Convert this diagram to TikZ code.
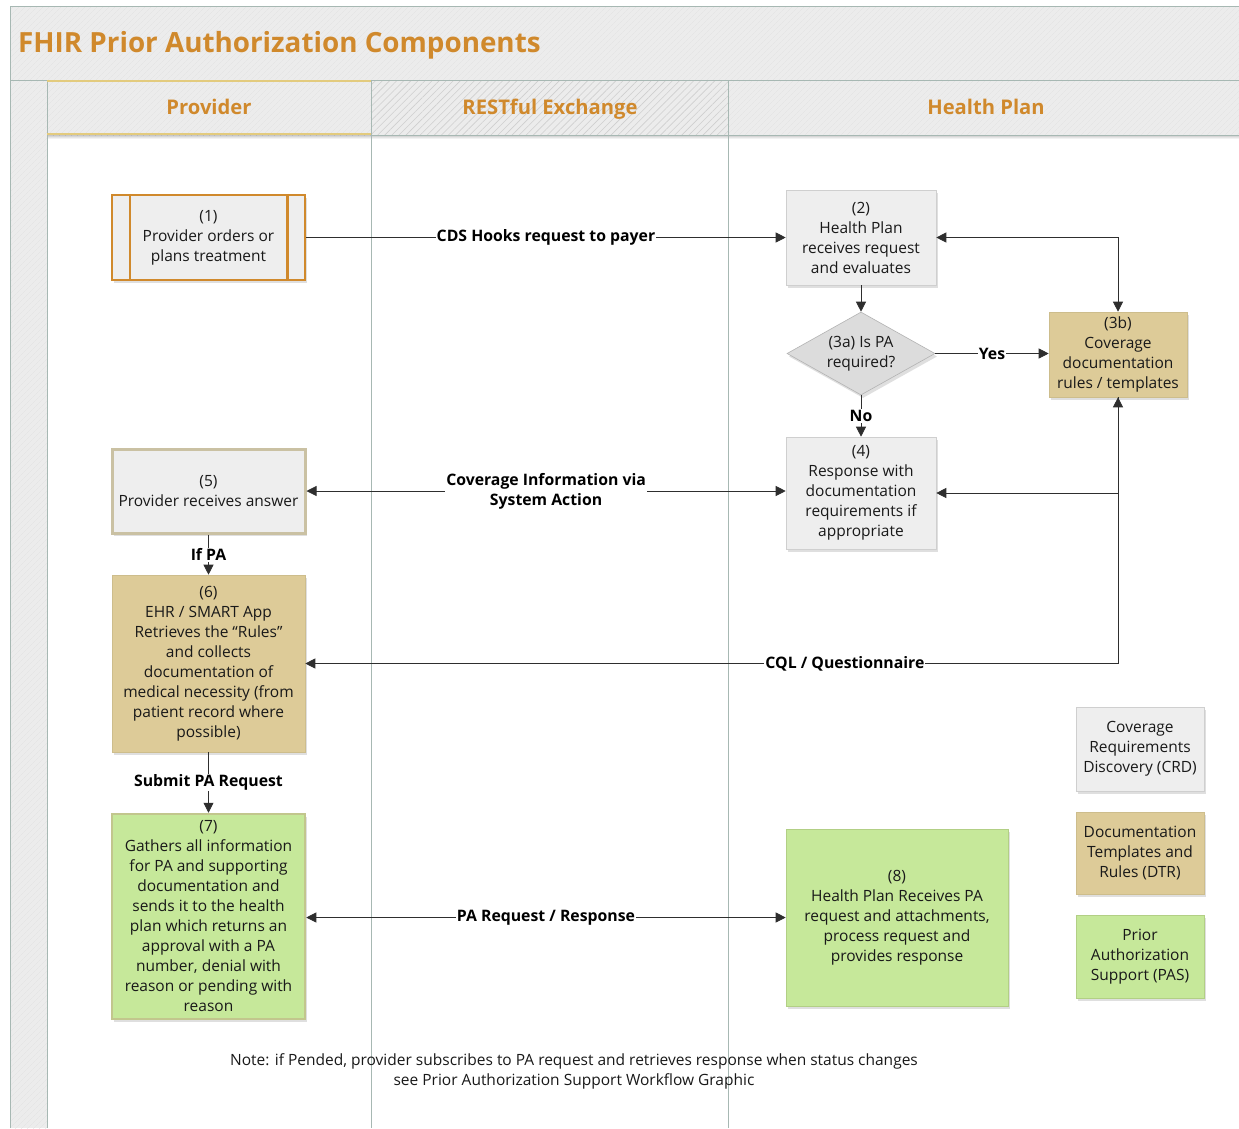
\documentclass[tikz,border=0pt]{standalone}
\usepackage{fontspec}
\setmainfont{Open Sans}
\usetikzlibrary{arrows.meta,shapes.geometric,shadows,patterns.meta,calc}

\definecolor{titleorange}{HTML}{D0892C}
\definecolor{frameline}{HTML}{A7B8B3}
\definecolor{bandgray}{HTML}{ECECEC}
\definecolor{hatchlight}{HTML}{E2E2E2}
\definecolor{hatchdark}{HTML}{CFCFCF}
\definecolor{goldline}{HTML}{E3CB7E}
\definecolor{boxgray}{HTML}{EEEEEE}
\definecolor{boxgrayline}{HTML}{CFCFCF}
\definecolor{tanfill}{HTML}{DDCB98}
\definecolor{tanline}{HTML}{CDBD8C}
\definecolor{greenfill}{HTML}{C6E89A}
\definecolor{greenline}{HTML}{B2CF85}
\definecolor{answerline}{HTML}{CAC1A3}
\definecolor{pasline}{HTML}{C2C68D}
\definecolor{diamondfill}{HTML}{DCDCDC}
\definecolor{diamondline}{HTML}{B3B3B3}
\definecolor{linecol}{HTML}{2E2E2E}

\newcommand\bxfont{\fontsize{15.5}{20}\selectfont}
\newcommand\lblfont{\bfseries\fontsize{15.8}{20}\selectfont}

\tikzset{
  shade box/.style={drop shadow={shadow xshift=2pt, shadow yshift=-3pt, opacity=0.25}},
  stepbox/.style={shade box, draw=boxgrayline, line width=0.6pt, fill=boxgray,
    align=center, inner sep=0pt, font=\bxfont, text=black!90},
  tanbox/.style={stepbox, fill=tanfill, draw=tanline},
  greenbox/.style={stepbox, fill=greenfill, draw=greenline},
  decision/.style={shade box, diamond, aspect=1.78, draw=diamondline, line width=0.6pt,
    fill=diamondfill, align=center, inner sep=0pt, font=\bxfont, text=black!90,
    minimum width=148pt, minimum height=83pt},
  lbl/.style={fill=white, font=\lblfont, inner sep=1pt, align=center, text=black},
  arr/.style={draw=linecol, line width=0.8pt, -{Triangle[length=10pt,width=10pt]}},
  darr/.style={draw=linecol, line width=0.8pt,
    {Triangle[length=10pt,width=10pt]}-{Triangle[length=10pt,width=10pt]}},
  lanehead/.style={font=\bfseries\fontsize{20.2}{24}\selectfont, text=titleorange, anchor=base, inner sep=0pt},
}

\begin{document}
\begin{tikzpicture}[x=1pt,y=-1pt]
\useasboundingbox (0,0) rectangle (1239,1128);
\fill[white] (0,0) rectangle (1239,1128);

% ---- title band and lane header row ----
\fill[bandgray] (10,6) rectangle (1239,80);
\fill[pattern={Lines[distance=4pt,angle=45,line width=0.4pt]}, pattern color=hatchlight] (10,6) rectangle (1239,80);
\fill[bandgray] (10,80) rectangle (47,1128);
\fill[pattern={Lines[distance=4pt,angle=45,line width=0.4pt]}, pattern color=hatchlight] (10,80) rectangle (47,1128);
\fill[bandgray] (47,80) rectangle (1239,135);
\fill[pattern={Lines[distance=4pt,angle=45,line width=0.4pt]}, pattern color=hatchlight] (47,80) rectangle (371,135);
\fill[pattern={Lines[distance=5pt,angle=45,line width=0.6pt]}, pattern color=hatchdark] (371,80) rectangle (728,135);
\fill[pattern={Lines[distance=4pt,angle=45,line width=0.4pt]}, pattern color=hatchlight] (728,80) rectangle (1239,135);

% soft shadow under the header row
\foreach \i/\o in {0/0.22,1/0.16,2/0.10,3/0.05}
  \fill[black, opacity=\o] (47,135+\i) rectangle (1239,136+\i);

% frame and lane separators
\draw[frameline, line width=1pt] (1239,6) -- (10,6) -- (10,1128);
\draw[frameline, line width=1pt] (10,80) -- (1239,80);
\draw[frameline, line width=1pt] (47,80) -- (47,1128);
\draw[frameline, line width=1pt] (371,80) -- (371,1128);
\draw[frameline, line width=1pt] (728,80) -- (728,1128);
\draw[frameline, line width=0.8pt] (371,135) -- (1239,135);
\draw[goldline, line width=1.2pt] (47,81) -- (371,81);
\draw[goldline, line width=1.2pt] (47,134) -- (371,134);

% ---- titles ----
\node[anchor=base west, font=\bfseries\fontsize{27.8}{32}\selectfont, text=titleorange, inner sep=0pt]
  (title) at (18,52) {FHIR Prior Authorization Components};
\node[lanehead] (hprov) at (209,114) {Provider};
\node[lanehead] (hrest) at (550,114) {RESTful Exchange};
\node[lanehead] (hplan) at (986,114) {Health Plan};

% ---- process steps ----
\node[stepbox, draw=titleorange, line width=2.5pt, minimum width=193pt, minimum height=85pt]
  (n1) at (208.5,237.5) {(1)\\Provider orders or\\plans treatment};
\draw[titleorange, line width=2.5pt] ([xshift=19pt]n1.north west) -- ([xshift=19pt]n1.south west);
\draw[titleorange, line width=2.5pt] ([xshift=-19pt]n1.north east) -- ([xshift=-19pt]n1.south east);

\node[stepbox, minimum width=150pt, minimum height=95pt]
  (n2) at (861,237.5) {(2)\\Health Plan\\receives request\\and evaluates};

\node[decision] (d3a) at (861,353.5) {(3a) Is PA\\required?};

\node[tanbox, minimum width=138pt, minimum height=85pt]
  (n3b) at (1118,354.5) {(3b)\\Coverage\\documentation\\rules / templates};

\node[stepbox, minimum width=150pt, minimum height=112pt]
  (n4) at (861,493) {(4)\\Response with\\documentation\\requirements if\\appropriate};

\node[stepbox, draw=answerline, line width=3pt, minimum width=193pt, minimum height=84pt]
  (n5) at (208.5,491) {(5)\\Provider receives answer};

\node[tanbox, minimum width=193pt, minimum height=177pt]
  (n6) at (208.5,663.5) {(6)\\EHR / SMART App\\Retrieves the “Rules”\\and collects\\documentation of\\medical necessity (from\\patient record where\\possible)};

\node[greenbox, draw=pasline, line width=2.5pt, minimum width=193pt, minimum height=205pt]
  (n7) at (208.5,916.5) {(7)\\Gathers all information\\for PA and supporting\\documentation and\\sends it to the health\\plan which returns an\\approval with a PA\\number, denial with\\reason or pending with\\reason};

\node[greenbox, minimum width=222pt, minimum height=177pt]
  (n8) at (897,917.5) {(8)\\Health Plan Receives PA\\request and attachments,\\process request and\\provides response};

% ---- legend ----
\node[stepbox, minimum width=128pt, minimum height=84pt]
  (lcrd) at (1140,749) {Coverage\\Requirements\\Discovery (CRD)};
\node[tanbox, minimum width=128pt, minimum height=82pt]
  (ldtr) at (1140,853) {Documentation\\Templates and\\Rules (DTR)};
\node[greenbox, minimum width=128pt, minimum height=83pt]
  (lpas) at (1140,956.5) {Prior\\Authorization\\Support (PAS)};

% ---- connectors ----
\draw[arr] (n1.east) -- node[lbl] {CDS Hooks request to payer} (n1.east -| n2.west);
\draw[arr] (n2.south) -- (d3a.north);
\draw[arr] (d3a.east) -- node[lbl] {Yes} (d3a.east -| n3b.west);
\draw[arr] (d3a.south) -- node[lbl] {No} (n4.north);
\draw[darr] (n2.east) -| (n3b.north);
\draw[darr] (n3b.south) |- (n4.east);
\draw[arr] (n3b.south) |- node[lbl, pos=0.668] {CQL / Questionnaire} (n6.east);
\draw[darr] (n5.east) -- node[lbl] {Coverage Information via\\System Action} (n5.east -| n4.west);
\draw[arr] (n5.south) -- node[lbl] {If PA} (n6.north);
\draw[arr] (n6.south) -- node[lbl] {Submit PA Request} (n7.north);
\draw[darr] (n7.east |- n8.west) -- node[lbl] {PA Request / Response} (n8.west);

% ---- note ----
\node[font=\bxfont, align=center, text=black!90, inner sep=0pt] (note) at (574,1071)
  {Note: if Pended, provider subscribes to PA request and retrieves response when status changes\\
   see Prior Authorization Support Workflow Graphic};
\end{tikzpicture}
\end{document}
